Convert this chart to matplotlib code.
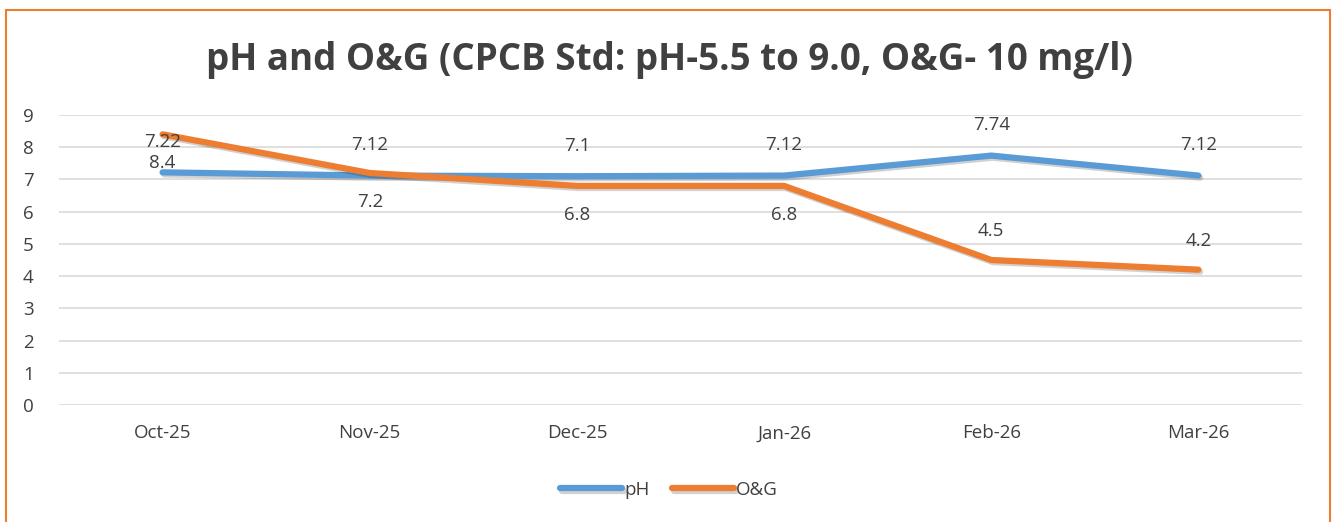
import matplotlib
matplotlib.use("Agg")
import matplotlib.pyplot as plt
import matplotlib.patheffects as pe
from matplotlib.patches import Rectangle

months = ["Oct-25", "Nov-25", "Dec-25", "Jan-26", "Feb-26", "Mar-26"]
ph = [7.22, 7.12, 7.1, 7.12, 7.74, 7.12]
og = [8.4, 7.2, 6.8, 6.8, 4.5, 4.2]
yticks = [0, 1, 2, 3, 4, 5, 6, 7, 8, 9]

# label placement (style): +1 above, -1 below
ph_side = [1, 1, 1, 1, 1, 1]
og_side = [-1, -1, -1, -1, 1, 1]

plt.rcParams['font.family'] = ['Open Sans', 'DejaVu Sans']
txt = "#404040"
fig = plt.figure(figsize=(13.38, 5.22), dpi=100)
fig.patches.append(Rectangle((6/1338, -0.05), 1324/1338, 1 - 10/522 + 0.05,
                             transform=fig.transFigure, fill=False,
                             edgecolor="#ED7D31", linewidth=1.5))
ax = fig.add_axes([59/1338, 1 - 405/522, (1302 - 59)/1338, (405 - 115)/522])
x = list(range(len(months)))
shadow = [pe.SimpleLineShadow(offset=(1.2, -1.5), alpha=0.18), pe.Normal()]
ax.plot(x, ph, color="#5B9BD5", lw=4.5, solid_capstyle="round", label="pH", path_effects=shadow)
ax.plot(x, og, color="#ED7D31", lw=4.5, solid_capstyle="round", label="O&G", path_effects=shadow)
for xi, v, s in zip(x, ph, ph_side):
    ax.annotate(f"{v:g}", (xi, v), xytext=(0, 22 * s), textcoords="offset points",
                ha="center", va="center", fontsize=13.5, color=txt)
for xi, v, s in zip(x, og, og_side):
    ax.annotate(f"{v:g}", (xi, v), xytext=(0, 21 * s), textcoords="offset points",
                ha="center", va="center", fontsize=13.5, color=txt)
ax.set_xlim(-0.5, len(months) - 0.5)
ax.set_ylim(0, 9)
ax.set_yticks(yticks)
ax.set_xticks(x)
ax.set_xticklabels(months)
ax.grid(axis="y", color="#D9D9D9", lw=1.2)
ax.set_axisbelow(True)
for s in ax.spines.values():
    s.set_visible(False)
ax.tick_params(length=0, labelsize=13.5, colors=txt)
ax.tick_params(axis="x", pad=14)
ax.tick_params(axis="y", pad=22)
for lab in ax.get_yticklabels():
    lab.set_horizontalalignment("center")
fig.text(0.5, 1 - 60/522, "pH and O&G (CPCB Std: pH-5.5 to 9.0, O&G- 10 mg/l)",
         ha="center", va="center", fontsize=26.5, fontweight="bold", color=txt)
fig.legend(loc="center", bbox_to_anchor=(0.5, 1 - 490/522), ncol=2, frameon=False,
           fontsize=13.5, labelcolor=txt, handlelength=3.3, handletextpad=0.1, columnspacing=1.2)
fig.savefig("out.png", dpi=100)
